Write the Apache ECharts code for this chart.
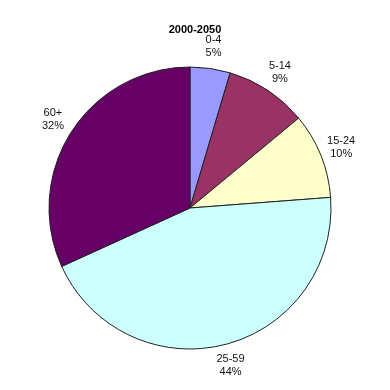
<!DOCTYPE html>
<html>
<head>
<meta charset="utf-8">
<script src="https://cdn.jsdelivr.net/npm/echarts@6/dist/echarts.min.js"></script>
<style>html,body{margin:0;padding:0;background:#fff}#c{width:390px;height:390px}</style>
</head>
<body>
<div id="c"></div>
<script>
var titleText = '2000-2050';
var categories = ['0-4', '5-14', '15-24', '25-59', '60+'];
var values = [4.6, 9.4, 9.8, 44.4, 31.8];
var colors = ['#9999FF', '#993366', '#FFFFCC', '#CCFFFF', '#660066'];

var total = values.reduce(function (a, b) { return a + b; }, 0);
var pieData = categories.map(function (c, i) {
  return { name: c, value: values[i], itemStyle: { color: colors[i] } };
});
var labelData = categories.map(function (c, i) {
  return { name: c, value: values[i] };
});

var chart = echarts.init(document.getElementById('c'), null, { renderer: 'canvas' });
chart.setOption({
  animation: false,
  backgroundColor: '#ffffff',
  title: {
    text: titleText,
    left: 190, top: 19,
    textAlign: 'center',
    textStyle: { fontFamily: 'Liberation Sans', fontSize: 11, fontWeight: 'bold', color: '#000' }
  },
  series: [
    {
      type: 'pie',
      center: [190, 208],
      radius: [0, 141],
      startAngle: 90,
      clockwise: true,
      silent: true,
      label: { show: false },
      labelLine: { show: false },
      itemStyle: { borderColor: '#222', borderWidth: 1 },
      data: pieData
    },
    {
      type: 'pie',
      center: [190, 208],
      radius: [140, 180],
      startAngle: 90,
      clockwise: true,
      silent: true,
      z: 0,
      itemStyle: { color: 'rgba(0,0,0,0)', borderWidth: 0 },
      label: {
        show: true,
        position: 'inside',
        rotate: 0,
        fontFamily: 'Liberation Sans',
        fontSize: 11,
        lineHeight: 13,
        color: '#111',
        align: 'center',
        verticalAlign: 'middle',
        formatter: function (p) {
          return p.name + '\n' + Math.round(p.value / total * 100) + '%';
        }
      },
      labelLine: { show: false },
      data: labelData
    }
  ]
});
</script>
</body>
</html>
